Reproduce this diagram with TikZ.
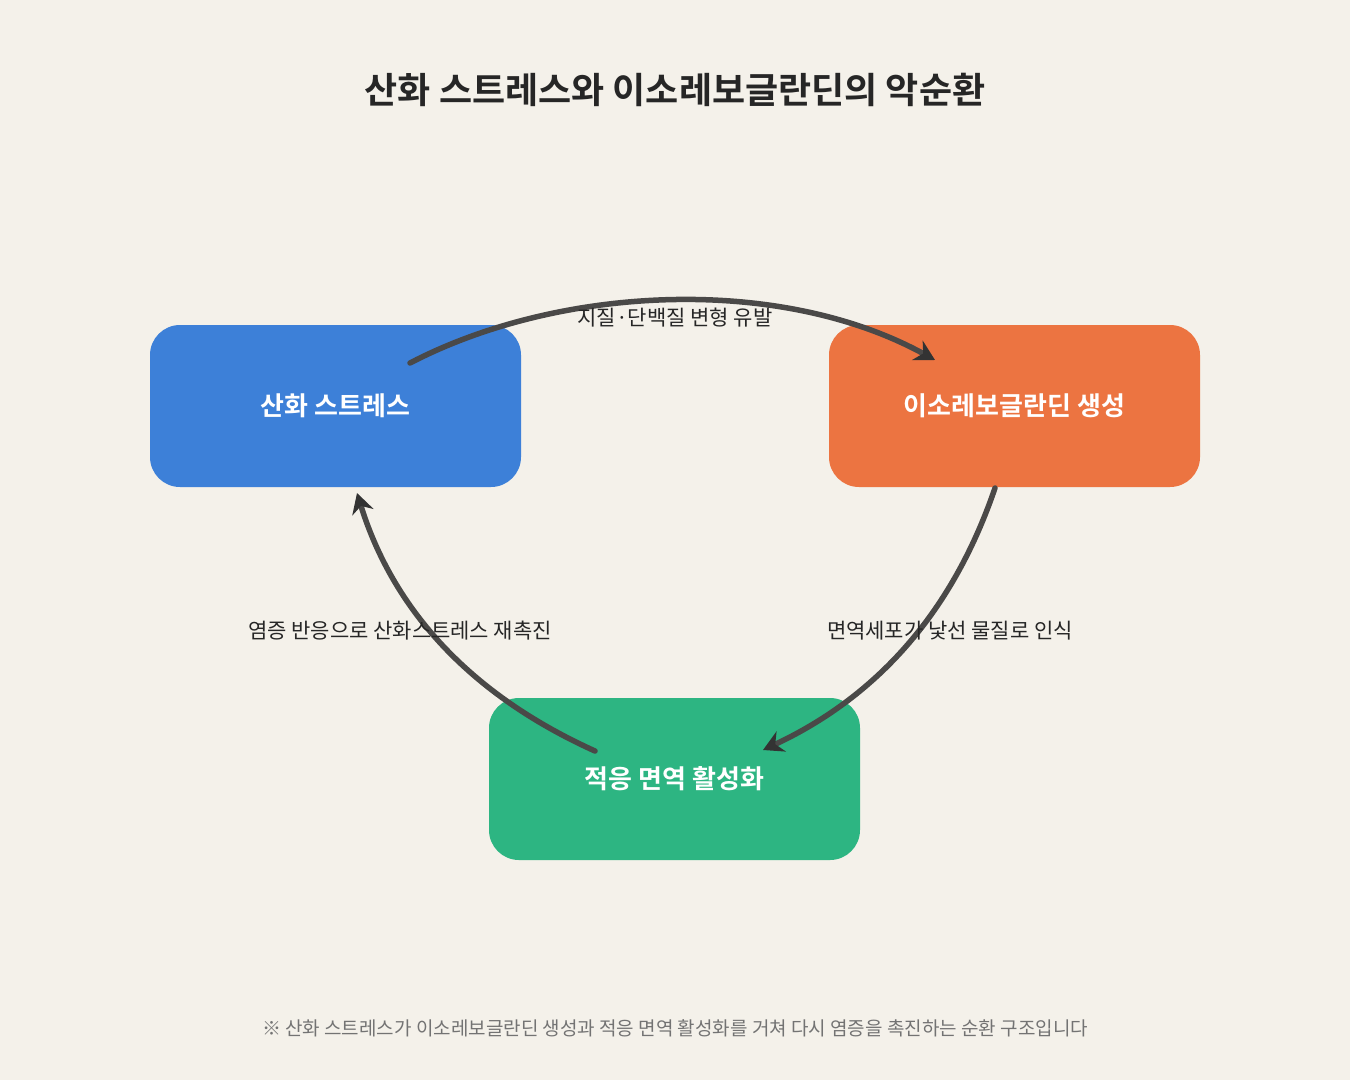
\documentclass[tikz,border=0pt]{standalone}
\usepackage{fontspec}
\setmainfont{Noto Sans CJK KR}[BoldFont={Noto Sans CJK KR Bold}]
\usetikzlibrary{arrows.meta}
\definecolor{bg}{HTML}{F4F1EA}
\definecolor{cblue}{HTML}{3D80D8}
\definecolor{corange}{HTML}{EC7441}
\definecolor{cgreen}{HTML}{2DB582}
\definecolor{carrow}{HTML}{4A4948}
\begin{document}
\begin{tikzpicture}[x=1pt,y=-1pt,
  box/.style={rounded corners=30pt,minimum width=371pt,minimum height=162pt,inner sep=0pt,text=white,font=\bfseries\fontsize{26}{30}\selectfont},
  conn/.style={draw=carrow,line width=5.5pt,line cap=round,-{Stealth[length=20pt,width=22pt,color=black!80]}},
  lbl/.style={font=\fontsize{21}{25}\selectfont,text=black!85}]
\fill[bg] (0,0) rectangle (1350,1080);
\useasboundingbox (0,0) rectangle (1350,1080);
\node[font=\bfseries\fontsize{36}{40}\selectfont,text=black!85] (title) at (675,90) {산화 스트레스와 이소레보글란딘의 악순환};
\node[box,fill=cblue] (ox) at (335.5,406) {산화 스트레스};
\node[box,fill=corange] (iso) at (1014.5,406) {이소레보글란딘 생성};
\node[box,fill=cgreen] (imm) at (674.5,779) {적응 면역 활성화};
\coordinate (a1) at (410,363);
\coordinate (a2) at (935,360);
\coordinate (b1) at (995,488);
\coordinate (b2) at (763,750);
\coordinate (c1) at (595,751);
\coordinate (c2) at (357,493);
\draw[conn] (a1) .. controls (560,285) and (780,275) .. (a2);
\draw[conn] (b1) .. controls (950,620) and (870,700) .. (b2);
\draw[conn] (c1) .. controls (460,690) and (390,600) .. (c2);
\node[lbl] (l1) at (675,318) {지질·단백질 변형 유발};
\node[lbl] (l2) at (950,631) {면역세포가 낯선 물질로 인식};
\node[lbl] (l3) at (400,631) {염증 반응으로 산화스트레스 재촉진};
\node[font=\fontsize{19}{23}\selectfont,text=black!55] (foot) at (675,1028) {※ 산화 스트레스가 이소레보글란딘 생성과 적응 면역 활성화를 거쳐 다시 염증을 촉진하는 순환 구조입니다};
\end{tikzpicture}
\end{document}
